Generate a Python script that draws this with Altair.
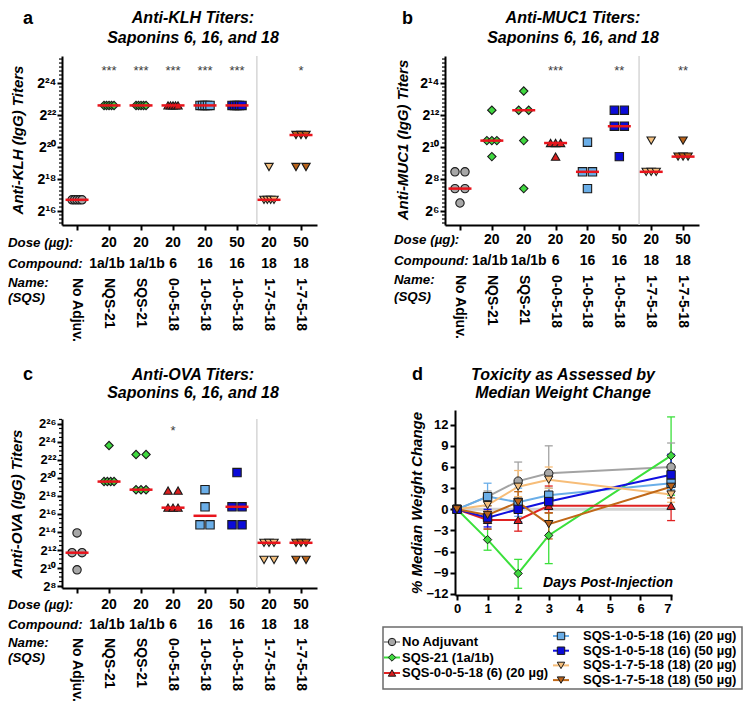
import altair as alt
import pandas as pd

FONT = "Liberation Sans"

# ---------------- categories (panels a, b, c) ----------------
cat_names = ["No Adjuv.", "NQS-21", "SQS-21", "0-0-5-18", "1-0-5-18",
             "1-0-5-18", "1-7-5-18", "1-7-5-18"]
cat_dose = ["", "20", "20", "20", "20", "50", "20", "50"]
cat_compound = ["", "1a/1b", "1a/1b", "6", "16", "16", "18", "18"]
cat_group = ["none", "qs21", "qs21", "s6", "s16a", "s16b", "s18a", "s18b"]

group_keys = ["none", "qs21", "s6", "s16a", "s16b", "s18a", "s18b"]
group_fill = ["#a8a8a8", "#3fd83f", "#d81e1e", "#6aaee8", "#0b0bd8", "#f4c07e", "#b8621a"]
group_line = ["#a3a3a3", "#3be03b", "#e02222", "#6aaee8", "#1010e0", "#f7bd78", "#c06818"]
group_shape = ["circle", "diamond", "triangle-up", "square", "square",
               "triangle-down", "triangle-down"]
legend_labels = ["No Adjuvant", "SQS-21 (1a/1b)", "SQS-0-0-5-18 (6) (20 \u00b5g)",
                 "SQS-1-0-5-18 (16) (20 \u00b5g)", "SQS-1-0-5-18 (16) (50 \u00b5g)",
                 "SQS-1-7-5-18 (18) (20 \u00b5g)", "SQS-1-7-5-18 (18) (50 \u00b5g)"]

# ---------------- panel a: anti-KLH (log2 titers) ----------------
klh_none = [16.7, 16.7, 16.7, 16.7, 16.7]
klh_nqs21 = [22.6, 22.6, 22.6, 22.6, 22.6]
klh_sqs21 = [22.6, 22.6, 22.6, 22.6, 22.6]
klh_s6 = [22.6, 22.6, 22.6, 22.6, 22.6]
klh_s16_20 = [22.6, 22.6, 22.6, 22.6, 22.6]
klh_s16_50 = [22.6, 22.6, 22.6, 22.6, 22.6]
klh_s18_20 = [16.7, 16.7, 16.7, 16.7, 18.75]
klh_s18_50 = [20.75, 20.75, 20.75, 18.75, 18.75]
klh_stars = ["", "***", "***", "***", "***", "***", "", "*"]

# ---------------- panel b: anti-MUC1 ----------------
muc_none = [8.45, 8.45, 7.4, 7.4, 6.5]
muc_nqs21 = [12.3, 10.4, 10.4, 10.4, 9.4]
muc_sqs21 = [13.5, 12.3, 12.3, 10.4, 7.4]
muc_s6 = [10.25, 10.25, 10.25, 9.4]
muc_s16_20 = [10.3, 8.45, 8.45, 7.4]
muc_s16_50 = [12.3, 12.3, 11.3, 11.3, 9.4]
muc_s18_20 = [10.4, 8.45, 8.45, 8.45]
muc_s18_50 = [10.4, 9.4, 9.4, 9.4]
muc_stars = ["", "", "", "***", "", "**", "", "**"]

# ---------------- panel c: anti-OVA ----------------
ova_none = [13.9, 11.7, 11.7, 9.8]
ova_nqs21 = [23.6, 19.6, 19.6, 19.6, 19.6]
ova_sqs21 = [22.6, 22.6, 18.7, 18.7, 18.7]
ova_s6 = [18.6, 18.6, 16.7, 16.7, 16.7]
ova_s16_20 = [18.7, 16.8, 14.8, 14.8]
ova_s16_50 = [20.6, 16.8, 16.8, 14.8, 14.8]
ova_s18_20 = [12.8, 12.8, 12.8, 10.9, 10.9]
ova_s18_50 = [12.8, 12.8, 12.8, 10.9, 10.9]
ova_stars = ["", "", "", "*", "", "", "", ""]

# ---------------- panel d: % median weight change ----------------
days = [0, 1, 2, 3, 7]
wc_none = [0, 1.8, 4.0, 5.1, 6.0]
wc_none_lo = [0, 1.0, 1.5, 1.5, 2.8]
wc_none_hi = [0, 2.6, 6.7, 9.0, 9.4]
wc_qs21 = [0, -4.3, -9.1, -3.7, 7.6]
wc_qs21_lo = [0, -5.8, -11.2, -7.7, 2.0]
wc_qs21_hi = [0, -2.8, -7.1, -0.5, 13.1]
wc_s6 = [0, -1.5, -1.5, 0.5, 0.5]
wc_s6_lo = [0, -2.8, -3.1, -0.5, -1.6]
wc_s6_hi = [0, -0.3, 0.0, 3.3, 2.5]
wc_s16_20 = [0, 1.8, 1.0, 2.0, 3.7]
wc_s16_20_lo = [0, 0.5, -1.0, 0.8, 2.8]
wc_s16_20_hi = [0, 3.7, 3.0, 3.0, 4.8]
wc_s16_50 = [0, -1.2, 0.0, 1.1, 4.9]
wc_s16_50_lo = [0, -2.5, -1.8, 0.0, 3.8]
wc_s16_50_hi = [0, 0.0, 1.4, 2.4, 7.8]
wc_s18_20 = [0, 0.6, 3.2, 4.2, 2.1]
wc_s18_20_lo = [0, -0.5, 1.8, 3.0, 1.0]
wc_s18_20_hi = [0, 2.0, 5.5, 6.0, 3.3]
wc_s18_50 = [0, -0.8, 1.0, -2.1, 3.2]
wc_s18_50_lo = [0, -2.0, -0.5, -4.2, 1.6]
wc_s18_50_hi = [0, 0.5, 2.5, -0.5, 4.4]

# ================= helpers =================
one = pd.DataFrame({"k": [0]})
X_LO, X_HI = -0.47, 7.5
SUP = str.maketrans("0123456789", "\u2070\u00b9\u00b2\u00b3\u2074\u2075\u2076\u2077\u2078\u2079")


def sup_label_expr(vals):
    expr = "''"
    for v in reversed(vals):
        expr = f"datum.value == {v} ? '2{str(v).translate(SUP)}' : ({expr})"
    return expr


def spread(vals, ppu, total_px=10.0):
    counts = {}
    for v in vals:
        counts[v] = counts.get(v, 0) + 1
    seen, out = {}, []
    for v in vals:
        k = counts[v]
        j = seen.get(v, 0)
        seen[v] = j + 1
        off = 0.0 if k == 1 else (j / (k - 1) - 0.5) * total_px
        out.append(off / ppu)
    return out


def txt(s, x, y, size=14, italic=False, align="left", baseline="middle",
        angle=0, line_height=None, color="black", weight="bold"):
    kw = dict(text=s, font=FONT, fontSize=size, fontWeight=weight,
              align=align, baseline=baseline, color=color)
    if italic:
        kw["fontStyle"] = "italic"
    if angle:
        kw["angle"] = angle
    if line_height:
        kw["lineHeight"] = line_height
    return alt.Chart(one).mark_text(**kw).encode(x=alt.value(x), y=alt.value(y))


shape_scale = alt.Scale(domain=group_keys, range=group_shape)
fill_scale = alt.Scale(domain=group_keys, range=group_fill)
line_scale = alt.Scale(domain=group_keys, range=group_line)


def titer_panel(values, stars, dom, yticks, minor_ticks, W, H, yrange, lab_size,
                letter, lpos, title, tpos, tlh, ytitle, ytpos, star_y, sep_y,
                row_x, row_y, names_y, comp_dx, anchor=None):
    ppu = W / (X_HI - X_LO)
    recs = []
    for i, vals in enumerate(values):
        for v, o in zip(vals, spread(vals, ppu)):
            recs.append({"xi": i, "x": i + o, "v": v, "g": cat_group[i]})
    df = pd.DataFrame(recs)
    rows = pd.DataFrame({"x": list(range(8)), "dose": cat_dose, "comp": cat_compound,
                         "name": cat_names, "s": stars})
    xs = alt.Scale(domain=[X_LO, X_HI], nice=False, zero=False)
    yk = dict(domain=dom, nice=False, zero=False)
    if yrange:
        yk["range"] = yrange
    ys = alt.Scale(**yk)
    xax = alt.Axis(values=list(range(8)), labels=False, title=None, tickSize=5,
                   tickWidth=2, tickColor="black", domainColor="black",
                   domainWidth=2, grid=False)
    yax = alt.Axis(values=yticks, labelExpr=sup_label_expr(yticks), title=None,
                   tickSize=5, tickWidth=2, tickColor="black", domainColor="black",
                   domainWidth=2, grid=False, labelFont=FONT, labelFontSize=lab_size,
                   labelFontWeight="bold", labelColor="black", labelPadding=1)

    def X(f):
        return alt.X(f, scale=xs, axis=xax)

    def Y(f):
        return alt.Y(f, scale=ys, axis=yax)

    layers = []
    layers.append(alt.Chart(pd.DataFrame({"x": [5.62]})).mark_rule(
        color="#d6d6d6", strokeWidth=1.5).encode(
        x=X("x:Q"), y=alt.value(sep_y[0]), y2=alt.value(sep_y[1])))
    layers.append(alt.Chart(pd.DataFrame({"v": minor_ticks})).mark_rule(
        color="black", strokeWidth=1.2).encode(
        x=alt.value(-3), x2=alt.value(0), y=Y("v:Q")))
    layers.append(alt.Chart(df).mark_point(
        filled=True, size=70, stroke="#1a1a1a", strokeWidth=1.1, opacity=1).encode(
        x=X("x:Q"), y=Y("v:Q"),
        shape=alt.Shape("g:N", scale=shape_scale, legend=None),
        fill=alt.Fill("g:N", scale=fill_scale, legend=None)))
    layers.append(alt.Chart(df).transform_aggregate(
        v="median(v)", groupby=["xi"]).transform_calculate(x="datum.xi").mark_tick(
        orient="horizontal", color="#e8141c", thickness=2.5, size=23, opacity=1).encode(
        x=X("x:Q"), y=Y("v:Q")))
    layers.append(alt.Chart(rows).mark_text(
        font=FONT, fontSize=13, color="#3c3c3c", baseline="middle").encode(
        x=X("x:Q"), y=alt.value(star_y), text="s:N"))
    layers.append(alt.Chart(rows).mark_text(
        font=FONT, fontSize=14, fontWeight="bold", color="black", baseline="middle").encode(
        x=X("x:Q"), y=alt.value(row_y[0]), text="dose:N"))
    layers.append(alt.Chart(rows).transform_filter("datum.x > 2").mark_text(
        font=FONT, fontSize=14, fontWeight="bold", color="black", baseline="middle").encode(
        x=X("x:Q"), y=alt.value(row_y[1]), text="comp:N"))
    for idx, dx in zip([1, 2], comp_dx):
        layers.append(alt.Chart(rows).transform_filter(f"datum.x == {idx}").mark_text(
            font=FONT, fontSize=14, fontWeight="bold", color="black", baseline="middle",
            dx=dx).encode(
            x=X("x:Q"), y=alt.value(row_y[1]), text="comp:N"))
    layers.append(alt.Chart(rows).mark_text(
        font=FONT, fontSize=14, fontWeight="bold", color="black", baseline="middle",
        align="left", angle=90).encode(
        x=X("x:Q"), y=alt.value(names_y), text="name:N"))
    layers.append(txt("Dose (\u00b5g):", row_x, row_y[0], size=13.3, italic=True))
    layers.append(txt("Compound:", row_x, row_y[1], size=13.3, italic=True))
    layers.append(txt("Name:", row_x, row_y[2], size=13.3, italic=True))
    layers.append(txt("(SQS)", row_x, row_y[3], size=13.3, italic=True))
    layers.append(txt(letter, lpos[0], lpos[1], size=18))
    layers.append(txt(title, tpos[0], tpos[1], size=16, italic=True, align="center",
                      line_height=tlh))
    layers.append(txt(ytitle, ytpos[0], ytpos[1], size=15, italic=True,
                      align="center", angle=270))
    if anchor:
        layers.append(alt.Chart(one).mark_square(size=1, color="white", filled=True).encode(
            x=alt.value(anchor[0]), y=alt.value(anchor[1])))
    return alt.layer(*layers).properties(width=W, height=H)


pa = titer_panel(
    [klh_none, klh_nqs21, klh_sqs21, klh_s6, klh_s16_20, klh_s16_50, klh_s18_20, klh_s18_50],
    klh_stars, [15.125, 25.69], [16, 18, 20, 22, 24],
    [x / 4 for x in range(61, 103) if x % 8 != 0], 255, 169, None, 14,
    "a", (-39, -37), ["Anti-KLH Titers:", "Saponins 6, 16, and 18"], (131, -38), 20,
    "Anti-KLH (IgG) Titers", (-44, 84), 15, (0, 169),
    -54, [187, 208, 227, 242], 222, (-2, 6), anchor=(-53.5, -47.5))

pb = titer_panel(
    [muc_none, muc_nqs21, muc_sqs21, muc_s6, muc_s16_20, muc_s16_50, muc_s18_20, muc_s18_50],
    muc_stars, [5.125, 15.69], [6, 8, 10, 12, 14],
    [x / 4 for x in range(21, 63) if x % 8 != 0], 254, 169, None, 14,
    "b", (-43, -37), ["Anti-MUC1 Titers:", "Saponins 6, 16, and 18"], (128, -38), 20,
    "Anti-MUC1 (IgG) Titers", (-42, 84), 15, (0, 169),
    -51, [184, 205, 224, 241], 219, (-2, 5))

pc = titer_panel(
    [ova_none, ova_nqs21, ova_sqs21, ova_s6, ova_s16_20, ova_s16_50, ova_s18_20, ova_s18_50],
    ova_stars, [7.78, 26.55], [8, 10, 12, 14, 16, 18, 20, 22, 24, 26],
    [x / 2 for x in range(16, 54) if x % 4 != 0], 255, 178, [178, 9], 13,
    "c", (-39, -35), ["Anti-OVA Titers:", "Saponins 6, 16, and 18"], (131, -35), 18,
    "Anti-OVA (IgG) Titers", (-45, 94), 21, (9, 178),
    -54, [195, 215, 233, 248], 228, (-2, 6))

# ---------------- panel d ----------------
series = [
    ("none", wc_none, wc_none_lo, wc_none_hi),
    ("qs21", wc_qs21, wc_qs21_lo, wc_qs21_hi),
    ("s6", wc_s6, wc_s6_lo, wc_s6_hi),
    ("s16a", wc_s16_20, wc_s16_20_lo, wc_s16_20_hi),
    ("s16b", wc_s16_50, wc_s16_50_lo, wc_s16_50_hi),
    ("s18a", wc_s18_20, wc_s18_20_lo, wc_s18_20_hi),
    ("s18b", wc_s18_50, wc_s18_50_lo, wc_s18_50_hi),
]
recs = []
for order, (k, m, lo, hi) in enumerate(series):
    for d, a, b, c in zip(days, m, lo, hi):
        recs.append({"s": k, "o": order, "day": d, "val": a, "lo": b, "hi": c})
ddf = pd.DataFrame(recs)
edf = ddf[ddf["day"] > 0]

xs_d = alt.Scale(domain=[-0.065, 7.03], range=[10, 227], nice=False, zero=False)
ys_d = alt.Scale(domain=[-12.15, 14.08], nice=False, zero=False)
xax_d = alt.Axis(values=list(range(8)), title=None, tickSize=5, tickWidth=2,
                 tickColor="black", domainColor="black", domainWidth=2, grid=False,
                 labelFont=FONT, labelFontSize=13, labelFontWeight="bold",
                 labelColor="black", labelPadding=2)
yax_d = alt.Axis(values=list(range(-12, 13, 3)), title=None, tickSize=5, tickWidth=2,
                 tickColor="black", domainColor="black", domainWidth=2, grid=False,
                 labelFont=FONT, labelFontSize=13, labelFontWeight="bold",
                 labelColor="black", labelPadding=2, offset=-10)


def XD(f):
    return alt.X(f, scale=xs_d, axis=xax_d)


def YD(f):
    return alt.Y(f, scale=ys_d, axis=yax_d)


dl = []
dl.append(alt.Chart(pd.DataFrame({"day": [0, 7], "val": [0, 0]})).mark_line(
    color="#d2d2d2", strokeWidth=3).encode(x=XD("day:Q"), y=YD("val:Q")))
dl.append(alt.Chart(edf).mark_rule(strokeWidth=1.3).encode(
    x=XD("day:Q"), y=YD("lo:Q"), y2="hi:Q",
    color=alt.Color("s:N", scale=line_scale, legend=None)))
dl.append(alt.Chart(edf).transform_fold(["lo", "hi"], as_=["kind", "val"]).mark_tick(
    orient="horizontal", size=8, thickness=1.3, opacity=1).encode(
    x=XD("day:Q"), y=YD("val:Q"),
    color=alt.Color("s:N", scale=line_scale, legend=None)))
dl.append(alt.Chart(ddf).mark_line(strokeWidth=2).encode(
    x=XD("day:Q"), y=YD("val:Q"), order="day:Q",
    color=alt.Color("s:N", scale=line_scale, legend=None)))
dl.append(alt.Chart(ddf).mark_point(
    filled=True, size=70, stroke="#1a1a1a", strokeWidth=1.0, opacity=1).encode(
    x=XD("day:Q"), y=YD("val:Q"),
    shape=alt.Shape("s:N", scale=shape_scale, legend=None),
    fill=alt.Fill("s:N", scale=fill_scale, legend=None)))
dl.append(txt("Days Post-Injection", 228, 173, size=14, italic=True, align="right"))
dl.append(txt("d", -33, -35, size=18))
dl.append(txt(["Toxicity as Assessed by", "Median Weight Change"], 118, -35,
              size=16, italic=True, align="center", line_height=18))
dl.append(txt("% Median Weight Change", -28, 93, size=15, italic=True,
              align="center", angle=270))

# legend (manual, two columns)
dl.append(alt.Chart(one).mark_rect(fillOpacity=0, stroke="#6b6b6b", strokeWidth=1.5).encode(
    x=alt.value(-62), x2=alt.value(297), y=alt.value(217), y2=alt.value(279)))
for i, k in enumerate(group_keys):
    if i < 3:
        cx, cy, tx = -53, 232 + i * 15.5, -43
    else:
        cx, cy, tx = 116, 226 + (i - 3) * 14.7, 138
    dl.append(alt.Chart(one).mark_rule(color=group_line[i], strokeWidth=2).encode(
        x=alt.value(cx - 8), x2=alt.value(cx + 8), y=alt.value(cy)))
    dl.append(alt.Chart(one).mark_point(
        shape=group_shape[i], filled=True, fill=group_fill[i], stroke="#1a1a1a",
        strokeWidth=1.0, size=55, opacity=1).encode(x=alt.value(cx), y=alt.value(cy)))
    dl.append(txt(legend_labels[i], tx, cy, size=13))

pdd = alt.layer(*dl).properties(width=227, height=185)

chart = alt.concat(
    pa, pb, pc, pdd, columns=2, spacing={"row": 185, "column": 128},
    bounds="flush", align="each"
).properties(padding=0).configure_view(stroke=None)

chart.save("out.html", embed_options={"renderer": "svg", "actions": False})
